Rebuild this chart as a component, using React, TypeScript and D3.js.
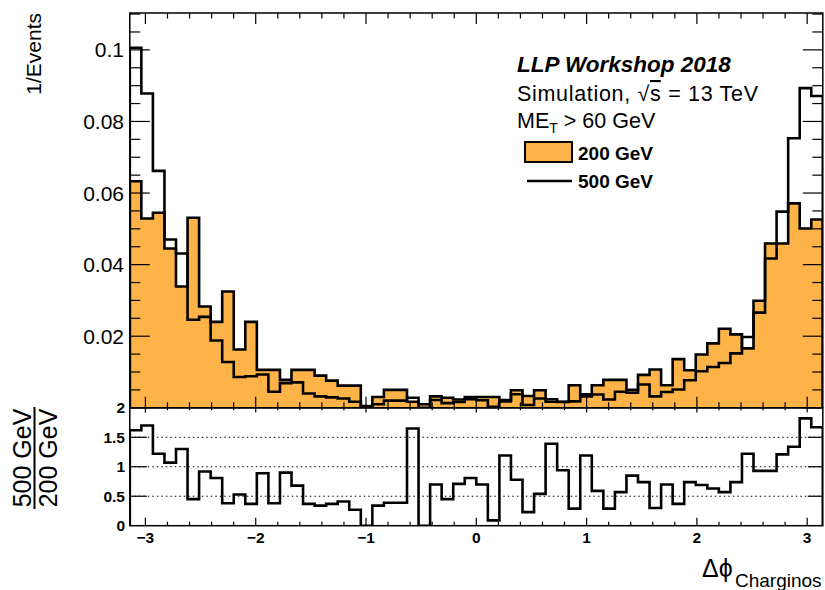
import React from 'react';
import * as d3 from 'd3';

const NBINS = 60;

const h200 = [
  0.0633, 0.0529, 0.0545, 0.0445, 0.0339, 0.0531, 0.0283, 0.0240, 0.0325, 0.0163,
  0.0240, 0.0106, 0.0106, 0.0078, 0.0106, 0.0106, 0.0090, 0.0076, 0.0062, 0.0062,
  0.0005, 0.0030, 0.0050, 0.0050, 0.0017, 0.0010, 0.0032, 0.0028, 0.0023, 0.0030,
  0.0030, 0.0030, 0.0018, 0.0049, 0.0033, 0.0049, 0.0017, 0.0017, 0.0063, 0.0032,
  0.0063, 0.0078, 0.0078, 0.0050, 0.0092, 0.0107, 0.0063, 0.0136, 0.0105, 0.0149,
  0.0180, 0.0221, 0.0205, 0.0166, 0.0299, 0.0459, 0.0459, 0.0571, 0.0501, 0.0526,
];

const h500 = [
  0.1006, 0.0878, 0.0662, 0.0470, 0.0431, 0.0246, 0.0254, 0.0188, 0.0128, 0.0086,
  0.0088, 0.0093, 0.0045, 0.0069, 0.0071, 0.0040, 0.0032, 0.0029, 0.0026, 0.0017,
  0.0000, 0.0010, 0.0020, 0.0020, 0.0028, 0.0000, 0.0022, 0.0013, 0.0016, 0.0024,
  0.0021, 0.0003, 0.0022, 0.0038, 0.0008, 0.0026, 0.0024, 0.0016, 0.0018, 0.0038,
  0.0037, 0.0023, 0.0045, 0.0042, 0.0065, 0.0032, 0.0044, 0.0051, 0.0077, 0.0102,
  0.0114, 0.0125, 0.0152, 0.0198, 0.0266, 0.0417, 0.0548, 0.0753, 0.0893, 0.0871,
];

const ratio = [
  1.62, 1.70, 1.22, 1.07, 1.30, 0.45, 0.92, 0.81, 0.38, 0.53,
  0.37, 0.89, 0.38, 0.90, 0.68, 0.37, 0.34, 0.37, 0.41, 0.27,
  0.00, 0.34, 0.39, 0.39, 1.65, 0.00, 0.70, 0.45, 0.71, 0.81,
  0.70, 0.09, 1.19, 0.78, 0.23, 0.54, 1.39, 0.94, 0.29, 1.19,
  0.59, 0.29, 0.57, 0.85, 0.74, 0.30, 0.70, 0.37, 0.74, 0.69,
  0.63, 0.57, 0.74, 1.22, 0.93, 0.93, 1.21, 1.34, 1.82, 1.67,
];

const yTicksTop = [0.02, 0.04, 0.06, 0.08, 0.1];
const yTickLabelsTop = ['0.02', '0.04', '0.06', '0.08', '0.1'];
const xTicks = [-3, -2, -1, 0, 1, 2, 3];
const xTickLabels = ['\u22123', '\u22122', '\u22121', '0', '1', '2', '3'];
const rTicks = [0, 0.5, 1, 1.5, 2];
const rTickLabels = ['0', '0.5', '1', '1.5', '2'];
const rGrid = [0.5, 1, 1.5];

const ORANGE = '#fdb347';
const FONT = '"Liberation Sans", Arial, Helvetica, sans-serif';

export default function App() {
  const L = 129.8, R = 822.8, T = 13, M = 407.8, B = 525.7;
  const x = d3.scaleLinear().domain([-Math.PI, Math.PI]).range([L, R]);
  const y = d3.scaleLinear().domain([0, 0.1103]).range([M, T]);
  const yr = d3.scaleLinear().domain([0, 2]).range([B, M]);
  const edges = d3.range(NBINS + 1).map((i) => -Math.PI + (i * 2 * Math.PI) / NBINS);

  const stepPts = (vals: number[]) => {
    const pts: [number, number][] = [[edges[0], 0]];
    vals.forEach((v, i) => pts.push([edges[i], v]));
    pts.push([edges[NBINS], vals[NBINS - 1]]);
    pts.push([edges[NBINS], 0]);
    return pts;
  };

  const lineTop = d3.line<[number, number]>()
    .x((d) => x(d[0]))
    .y((d) => y(d[1]))
    .curve(d3.curveStepAfter);
  const areaTop = d3.area<[number, number]>()
    .x((d) => x(d[0]))
    .y0(y(0))
    .y1((d) => y(d[1]))
    .curve(d3.curveStepAfter);
  const lineR = d3.line<[number, number]>()
    .x((d) => x(d[0]))
    .y((d) => yr(d[1]))
    .curve(d3.curveStepAfter);

  const xMinor = d3.range(-16, 17).map((k) => k * 0.2).filter((v) => v > -Math.PI && v < Math.PI);
  const yMinor = d3.range(0, 24).map((k) => k * 0.005).filter((v) => v <= 0.1103);

  const pts200 = stepPts(h200);
  const pts500 = stepPts(h500);
  const ptsR = stepPts(ratio);

  return (
    <svg
      width={825}
      height={590}
      style={{ position: 'absolute', left: 0, top: 0, background: '#fff' }}
      fontFamily={FONT}
    >
      <rect x={0} y={0} width={825} height={590} fill="#fff" />
      <defs>
        <clipPath id="clipTop">
          <rect x={L} y={T} width={R - L} height={M - T} />
        </clipPath>
        <clipPath id="clipR">
          <rect x={L} y={M} width={R - L} height={B - M} />
        </clipPath>
      </defs>

      {/* Top panel histograms */}
      <g clipPath="url(#clipTop)">
        <path d={areaTop(pts200) || ''} fill={ORANGE} stroke="none" />
        <path d={lineTop(pts200) || ''} fill="none" stroke="#000" strokeWidth={2.6} />
        <path d={lineTop(pts500) || ''} fill="none" stroke="#000" strokeWidth={2.6} />
      </g>

      {/* Top frame */}
      <rect x={L} y={T} width={R - L} height={M - T} fill="none" stroke="#000" strokeWidth={1.5} />

      {/* Top panel y ticks */}
      {yMinor.map((v, i) => {
        const major = Math.abs(v / 0.02 - Math.round(v / 0.02)) < 1e-6;
        const len = major ? 20 : 10.5;
        return (
          <g key={'ym' + i}>
            <line x1={L} x2={L + len} y1={y(v)} y2={y(v)} stroke="#000" strokeWidth={1.2} />
            <line x1={R - len} x2={R} y1={y(v)} y2={y(v)} stroke="#000" strokeWidth={1.2} />
          </g>
        );
      })}
      {/* Top panel x ticks (top and bottom) */}
      {xMinor.map((v, i) => {
        const major = Math.abs(v - Math.round(v)) < 1e-6;
        const len = major ? 11 : 5.5;
        return (
          <g key={'xm' + i}>
            <line x1={x(v)} x2={x(v)} y1={T} y2={T + len} stroke="#000" strokeWidth={1.2} />
            <line x1={x(v)} x2={x(v)} y1={M} y2={M - len} stroke="#000" strokeWidth={1.2} />
          </g>
        );
      })}

      {/* Top y labels */}
      {yTicksTop.map((v, i) => (
        <text key={'yl' + i} x={124} y={y(v)} dy="0.36em" textAnchor="end" fontSize={21} fill="#000">
          {yTickLabelsTop[i]}
        </text>
      ))}
      <text
        transform={`translate(41,13) rotate(-90)`}
        textAnchor="end"
        fontSize={21}
        fill="#000"
      >
        1/Events
      </text>

      {/* Legend / labels */}
      <text x={517} y={72} fontSize={22.5} fontWeight="bold" fontStyle="italic" fill="#000">
        LLP Workshop 2018
      </text>
      <text x={517} y={101} fontSize={21.5} fill="#000" textLength={241} lengthAdjust="spacing">
        Simulation, {'\u221A'}
        <tspan textDecoration="overline" style={{ textDecoration: 'overline' }}>s</tspan> = 13 TeV
      </text>
      <text x={517} y={128} fontSize={21.5} fill="#000">
        ME<tspan fontSize={14} dy={5}>T</tspan>
        <tspan dy={-5}> &gt; 60 GeV</tspan>
      </text>
      <rect x={525} y={142} width={47} height={20} fill={ORANGE} stroke="#000" strokeWidth={2} />
      <text x={578} y={160} fontSize={19} fontWeight="bold" fill="#000">200 GeV</text>
      <line x1={527} x2={572} y1={181} y2={181} stroke="#000" strokeWidth={2.6} />
      <text x={578} y={188} fontSize={19} fontWeight="bold" fill="#000">500 GeV</text>

      {/* Ratio panel */}
      {rGrid.map((v, i) => (
        <line
          key={'g' + i}
          x1={L}
          x2={R}
          y1={yr(v)}
          y2={yr(v)}
          stroke="#000"
          strokeWidth={1}
          strokeDasharray="1.5,3"
        />
      ))}
      <g clipPath="url(#clipR)">
        <path d={lineR(ptsR) || ''} fill="none" stroke="#000" strokeWidth={2.6} />
      </g>
      <rect x={L} y={M} width={R - L} height={B - M} fill="none" stroke="#000" strokeWidth={1.5} />
      {rGrid.map((v, i) => (
        <g key={'rt' + i}>
          <line x1={L} x2={L + 17} y1={yr(v)} y2={yr(v)} stroke="#000" strokeWidth={1.2} />
          <line x1={R - 15} x2={R} y1={yr(v)} y2={yr(v)} stroke="#000" strokeWidth={1.2} />
        </g>
      ))}
      {xMinor.map((v, i) => {
        const major = Math.abs(v - Math.round(v)) < 1e-6;
        const len = major ? 8 : 4;
        return (
          <g key={'rx' + i}>
            <line x1={x(v)} x2={x(v)} y1={B} y2={B - len} stroke="#000" strokeWidth={1.2} />
            <line x1={x(v)} x2={x(v)} y1={M} y2={M + len * 0.6} stroke="#000" strokeWidth={1.2} />
          </g>
        );
      })}
      {rTicks.map((v, i) => (
        <text
          key={'rl' + i}
          x={125}
          y={yr(v)}
          dy="0.36em"
          textAnchor="end"
          fontSize={15.5}
          fontWeight="bold"
          fill="#000"
        >
          {rTickLabels[i]}
        </text>
      ))}
      {xTicks.map((v, i) => (
        <text key={'xl' + i} x={x(v)} y={542.5} textAnchor="middle" fontSize={15.5} fontWeight="bold" fill="#000">
          {xTickLabels[i]}
        </text>
      ))}

      {/* Ratio y title (fraction) */}
      <g transform="translate(0,458) rotate(-90)">
        <text x={0} y={31} textAnchor="middle" fontSize={25} fill="#000">500 GeV</text>
        <line x1={-51} x2={51} y1={34.5} y2={34.5} stroke="#000" strokeWidth={2} />
        <text x={0} y={57} textAnchor="middle" fontSize={25} fill="#000">200 GeV</text>
      </g>

      {/* X title */}
      <text x={702} y={577} fontSize={25} fill="#000">
        {'\u0394\u03D5'}
      </text>
      <text x={735} y={587} fontSize={19} fill="#000">Charginos</text>
    </svg>
  );
}
